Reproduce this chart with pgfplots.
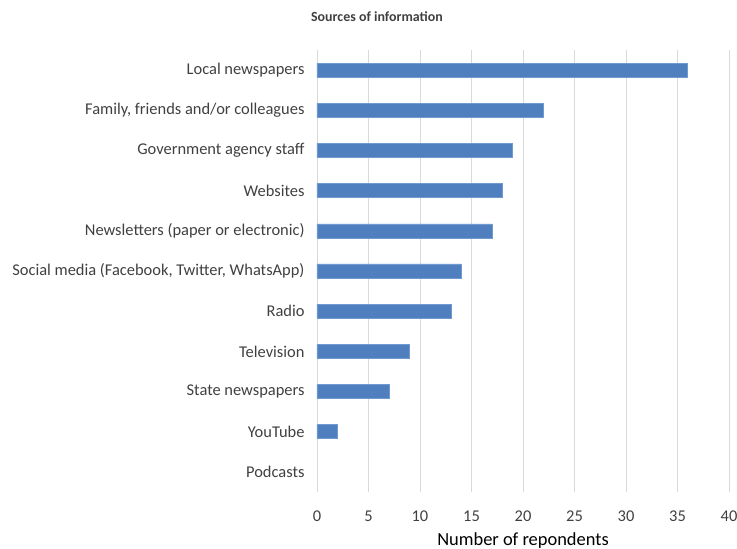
\documentclass[border=0pt]{standalone}
\usepackage{pgfplots}
\pgfplotsset{compat=1.18}
\usepackage{fontspec}
\setmainfont{Carlito}
\definecolor{barblue}{HTML}{4F7FBE}
\definecolor{baredge}{HTML}{6F99CF}
\definecolor{gridgray}{HTML}{D9D9D9}
\definecolor{labgray}{HTML}{404040}
\definecolor{titlegray}{HTML}{404040}
\begin{document}
\begin{tikzpicture}
\useasboundingbox (-317bp,-57bp) rectangle (420bp,492bp);
\begin{axis}[
  at={(0,0)}, anchor=south west,
  scale only axis, width=412bp, height=442bp,
  xbar, bar width=14bp,
  xmin=0, xmax=40, ymin=-0.5, ymax=10.5,
  xtick={0,5,...,40},
  ytick={0,...,10},
  yticklabels={Podcasts,YouTube,State newspapers,Television,Radio,{Social media (Facebook, Twitter, WhatsApp)},Newsletters (paper or electronic),Websites,Government agency staff,{Family, friends and/or colleagues},Local newspapers},
  axis line style={draw=none},
  major tick length=0pt,
  xmajorgrids, grid style={gridgray, line width=0.9bp},
  tick label style={font=\fontsize{16.5}{19}\selectfont, text=labgray},
  /pgf/number format/assume math mode=true,
  yticklabel style={xshift=-9bp},
  xticklabel style={yshift=-15bp},
  xlabel={Number of repondents},
  xlabel style={font=\fontsize{18.5}{22}\selectfont, text=black, yshift=-5bp},
  clip=false,
]
\addplot[fill=barblue, draw=baredge, line width=0.6bp] coordinates {
(2,1) (7,2) (9,3) (13,4) (14,5) (17,6) (18,7) (19,8) (22,9) (36,10)
};
\end{axis}
\node[anchor=base, font=\fontsize{14}{17}\selectfont\bfseries, text=titlegray] at (60bp,470bp) {Sources of information};
\end{tikzpicture}
\end{document}
